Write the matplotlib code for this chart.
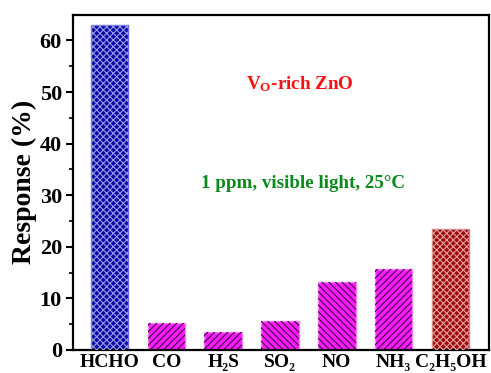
import matplotlib
matplotlib.use("Agg")
import matplotlib.pyplot as plt
import numpy as np

plt.rcParams['font.family'] = ['Liberation Serif', 'DejaVu Serif']
plt.rcParams['font.weight'] = 'bold'
plt.rcParams['mathtext.fontset'] = 'custom'
plt.rcParams['mathtext.rm'] = 'Liberation Serif:bold'
plt.rcParams['mathtext.it'] = 'Liberation Serif:bold'
plt.rcParams['mathtext.bf'] = 'Liberation Serif:bold'
plt.rcParams['hatch.linewidth'] = 0.8

# Gas responses
gases = ['HCHO', 'CO', 'H\u2082S', 'SO\u2082', 'NO', 'NH\u2083', 'C\u2082H\u2085OH']
response = [63.0, 5.2, 3.5, 5.6, 13.1, 15.7, 23.5]

face_colors = ['#0a0aa8', '#ff1aff', '#ff1aff', '#ff1aff', '#ff1aff', '#ff1aff', '#a00a0a']
edge_colors = ['#6a6ae0', '#ff80ff', '#ff80ff', '#ff80ff', '#ff80ff', '#ff80ff', '#d08080']
hatch_colors = ['#9a9ae0', '#3a003a', '#3a003a', '#3a003a', '#3a003a', '#3a003a', '#e0a0a0']
hatches = ['xxxxx', '/////', '/////', '\\\\\\\\\\', '\\\\\\\\\\', '/////', 'xxxxx']

fig = plt.figure(figsize=(4.91, 3.73), dpi=100)
ax = fig.add_axes([0.1487, 0.0617, 0.8473, 0.8989])

x = np.arange(len(gases))
width = 0.66
for i in range(len(gases)):
    ax.bar(x[i], response[i], width, color=face_colors[i],
           edgecolor=edge_colors[i], linewidth=1.0, zorder=2)
    ax.bar(x[i], response[i], width, color='none',
           edgecolor=hatch_colors[i], linewidth=0, hatch=hatches[i], zorder=3)

ax.set_xlim(-0.643, 6.68)
ax.set_ylim(0, 65)
ax.set_xticks(x)
ax.set_xticklabels(gases, fontsize=14, fontweight='bold')
ax.set_yticks([0, 10, 20, 30, 40, 50, 60])
ax.set_yticks(np.arange(5, 65, 10), minor=True)
ax.tick_params(axis='y', which='major', direction='out', length=5, width=1.5,
               labelsize=16, pad=3)
ax.tick_params(axis='y', which='minor', direction='out', length=3, width=1.2)
ax.tick_params(axis='x', which='both', length=0, pad=3)
for lab in ax.get_yticklabels():
    lab.set_fontweight('bold')
for s in ax.spines.values():
    s.set_linewidth(1.6)

ax.set_ylabel('Response (%)', fontsize=20, fontweight='bold', labelpad=2)

ax.text(3.35, 51.6, 'V$_\\mathrm{O}$-rich ZnO', color='#ff1010', fontsize=13.7,
        fontweight='bold', ha='center', va='center')
ax.text(3.4, 32.3, '1 ppm, visible light, 25\u00b0C', color='#0a8a1a',
        fontsize=13.7, fontweight='bold', ha='center', va='center')

fig.savefig('out.png', dpi=100)
